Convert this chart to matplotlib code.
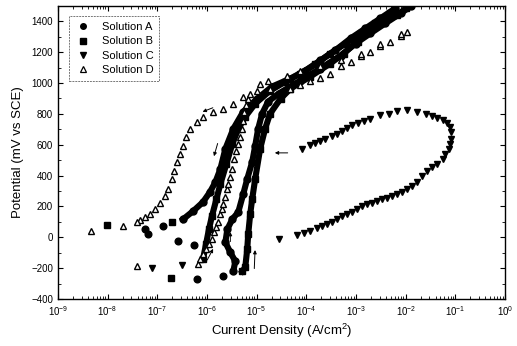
import numpy as np
import matplotlib
matplotlib.use("Agg")
import matplotlib.pyplot as plt
from matplotlib.ticker import FixedLocator, LogLocator, MultipleLocator, NullFormatter
from matplotlib.lines import Line2D

plt.rcParams['font.family'] = ['Liberation Sans', 'DejaVu Sans']
plt.rcParams['mathtext.default'] = 'regular'

# ---- data: log10(current density, A/cm2) and potential (mV vs SCE) ----
# Solution A (filled circles)
A_sparse_logi = [-6.20, -5.67, -6.88, -7.25, -7.19, -6.58, -6.26]
A_sparse_E = [-273, -254, 72, 52, 20, -26, -52]
A_fwd_logi = [-5.47, -5.43, -5.53, -5.63, -5.59, -5.49, -5.37, -5.27, -5.19, -5.09, -5.03, -4.97,
              -4.89, -4.77, -4.56, -4.12, -3.72, -3.31, -3.01, -2.71, -2.41, -2.10, -1.90]
A_fwd_E = [-221, -156, -98, -33, 52, 117, 163, 280, 378, 488, 592, 703,
           801, 879, 931, 1016, 1094, 1178, 1256, 1322, 1387, 1452, 1497]
A_rev_logi = [-2.21, -2.51, -2.81, -3.11, -3.42, -3.72, -4.02, -4.32, -4.69, -4.99, -5.27, -5.47,
              -5.63, -5.73, -5.83, -5.94, -6.08, -6.28, -6.48]
A_rev_E = [1484, 1419, 1354, 1289, 1211, 1146, 1081, 1029, 977, 898, 814, 703,
           573, 443, 358, 293, 228, 169, 117]

# Solution B (filled squares)
B_sparse_logi = [-6.72, -6.70, -8.01]
B_sparse_E = [-267, 98, 78]
B_fwd_logi = [-5.29, -5.23, -5.19, -5.17, -5.13, -5.09, -5.03, -4.93, -4.83, -4.73, -4.52, -4.32,
              -3.92, -3.52, -3.25, -2.97, -2.71, -2.45, -2.17, -2.00]
B_fwd_E = [-221, -195, -78, 20, 150, 247, 378, 573, 703, 801, 898, 963,
           1042, 1126, 1191, 1269, 1341, 1393, 1439, 1484]
B_rev_logi = [-2.31, -2.61, -2.91, -3.21, -3.52, -3.82, -4.12, -4.42, -4.73, -5.03, -5.23, -5.37,
              -5.49, -5.61, -5.73, -5.81, -5.90, -5.96, -6.02, -6.08]
B_rev_E = [1452, 1387, 1322, 1256, 1191, 1120, 1061, 1009, 950, 866, 781, 703,
           605, 475, 345, 247, 137, 52, -46, -143]

# Solution C (filled down triangles)
C_sparse_logi = [-7.10, -6.50]
C_sparse_E = [-202, -182]
C_logi = [-4.56, -4.19, -4.05, -3.92, -3.78, -3.68, -3.58, -3.48, -3.38, -3.28, -3.18, -3.08,
          -2.98, -2.88, -2.78, -2.68, -2.57, -2.47, -2.37, -2.27, -2.17, -2.07, -1.97, -1.87,
          -1.77, -1.67, -1.57, -1.47, -1.37, -1.26, -1.20, -1.13, -1.10, -1.08, -1.08, -1.10,
          -1.16, -1.26, -1.37, -1.47, -1.60, -1.77, -1.97, -2.17, -2.34, -2.51, -2.71, -2.84,
          -2.97, -3.08, -3.18, -3.28, -3.38, -3.48, -3.62, -3.72, -3.82, -3.92, -4.09]
C_E = [-9, 13, 26, 41, 57, 70, 85, 100, 117, 135, 150, 165,
       182, 200, 213, 221, 236, 247, 256, 269, 280, 295, 312, 334,
       360, 399, 432, 454, 475, 508, 540, 573, 605, 638, 682, 714,
       742, 757, 773, 786, 801, 812, 822, 816, 801, 790, 768, 751,
       742, 725, 708, 686, 671, 656, 638, 627, 612, 595, 573]

# Solution D (open up triangles)
D_sparse_logi = [-7.41, -7.69, -8.33]
D_sparse_E = [-189, 72, 39]
D_fwd_logi = [-6.18, -6.14, -6.08, -6.02, -5.96, -5.90, -5.85, -5.81, -5.77, -5.73, -5.69, -5.67,
              -5.63, -5.59, -5.57, -5.53, -5.49, -5.45, -5.41, -5.37, -5.33, -5.29, -5.27, -5.25,
              -5.21, -5.17, -4.99, -4.73, -4.32, -4.12, -3.92, -3.72, -3.52, -3.31, -3.11, -2.91,
              -2.71, -2.51, -2.31, -2.10, -1.98]
D_fwd_E = [-176, -143, -111, -78, -46, -13, 33, 65, 98, 150, 182, 215,
           260, 312, 345, 391, 443, 508, 560, 605, 651, 703, 755, 814,
           859, 898, 950, 963, 963, 990, 1016, 1035, 1061, 1107, 1139, 1178,
           1204, 1237, 1269, 1302, 1328]
D_rev_logi = [-2.10, -2.51, -2.91, -3.31, -3.72, -4.12, -4.38, -4.77, -4.93, -5.13, -5.27, -5.47,
              -5.67, -5.875, -6.08, -6.20, -6.34, -6.42, -6.48, -6.54, -6.60, -6.66, -6.70, -6.78,
              -6.84, -6.94, -7.04, -7.15, -7.25, -7.35, -7.41]
D_rev_E = [1315, 1256, 1191, 1146, 1107, 1081, 1048, 1016, 996, 931, 911, 866,
           833, 814, 781, 749, 703, 651, 592, 540, 488, 430, 378, 312,
           267, 221, 182, 150, 130, 111, 98]

labels = ['Solution A', 'Solution B', 'Solution C', 'Solution D']
xtick_exp = [-9, -8, -7, -6, -5, -4, -3, -2, -1, 0]
yticks = [-400, -200, 0, 200, 400, 600, 800, 1000, 1200, 1400]


def I(v):
    return 10.0 ** np.asarray(v, dtype=float)


fig = plt.figure(figsize=(5.17, 3.46), dpi=100)
ax = fig.add_axes([0.112, 0.136, 0.865, 0.847])

k = 'black'
# A
ax.plot(I(A_fwd_logi), A_fwd_E, '-', color=k, lw=4.4, marker='o', ms=5, zorder=3)
ax.plot(I(A_rev_logi), A_rev_E, '-', color=k, lw=4.4, marker='o', ms=5, zorder=3)
ax.plot(I(A_sparse_logi), A_sparse_E, 'o', color=k, ms=4.8, zorder=3)
# B
ax.plot(I(B_fwd_logi), B_fwd_E, '-', color=k, lw=4.4, marker='s', ms=4.6, zorder=3)
ax.plot(I(B_rev_logi), B_rev_E, '-', color=k, lw=4.4, marker='s', ms=4.6, zorder=3)
ax.plot(I(B_sparse_logi), B_sparse_E, 's', color=k, ms=4.6, zorder=3)
# C
ax.plot(I(C_logi), C_E, 'v', color=k, ms=4.6, zorder=3)
ax.plot(I(C_sparse_logi), C_sparse_E, 'v', color=k, ms=4.8, zorder=3)
# D
ax.plot(I(D_fwd_logi), D_fwd_E, '^', color=k, mfc='white', mew=1.0, ms=4.5, zorder=4)
ax.plot(I(D_rev_logi), D_rev_E, '^', color=k, mfc='white', mew=1.0, ms=4.5, zorder=4)
ax.plot(I(D_sparse_logi), D_sparse_E, '^', color=k, mfc='white', mew=1.0, ms=4.5, zorder=4)

# direction arrows
arrows = [((-5.83, 846), (-6.14, 807)),
          ((-5.77, 625), (-5.875, 508)),
          ((-4.32, 547), (-4.69, 547)),
          ((-5.53, -46), (-5.53, 52)),
          ((-5.05, -221), (-5.03, -65)),
          ((-6.02, -163), (-5.85, -59))]
for (t, h) in arrows:
    ax.annotate('', xy=(10 ** h[0], h[1]), xytext=(10 ** t[0], t[1]),
                arrowprops=dict(arrowstyle='-|>', lw=0.7, color=k, mutation_scale=5))

ax.set_xscale('log')
ax.set_xlim(1e-9, 1e0)
ax.set_ylim(-400, 1500)
ax.xaxis.set_major_locator(FixedLocator([10.0 ** e for e in xtick_exp]))
ax.set_xticklabels(['$10^{%d}$' % e for e in xtick_exp])
ax.xaxis.set_minor_locator(LogLocator(base=10, subs=np.arange(2, 10), numticks=20))
ax.xaxis.set_minor_formatter(NullFormatter())
ax.set_yticks(yticks)
ax.yaxis.set_minor_locator(MultipleLocator(100))
ax.tick_params(which='both', direction='in', top=True, right=True, labelsize=7)
ax.tick_params(which='major', length=3.5, width=0.8)
ax.tick_params(which='minor', length=2, width=0.6)
for s in ax.spines.values():
    s.set_linewidth(1.0)

ax.set_xlabel('Current Density (A/cm$^2$)', fontsize=9.5, labelpad=3)
ax.set_ylabel('Potential (mV vs SCE)', fontsize=9.5, labelpad=5)

handles = [Line2D([], [], ls='', marker='o', color=k, ms=4),
           Line2D([], [], ls='', marker='s', color=k, ms=4),
           Line2D([], [], ls='', marker='v', color=k, ms=4),
           Line2D([], [], ls='', marker='^', color=k, mfc='white', mew=0.9, ms=4)]
leg = ax.legend(handles, labels, loc='upper left', bbox_to_anchor=(0.012, 0.985), fontsize=8,
                frameon=True, fancybox=False, edgecolor='#555555', handlelength=1.5,
                handletextpad=0.9, borderpad=0.55, labelspacing=0.4)
leg.get_frame().set_linewidth(0.7)
leg.get_frame().set_linestyle((0, (2, 1)))

fig.savefig('out.png', dpi=100)
